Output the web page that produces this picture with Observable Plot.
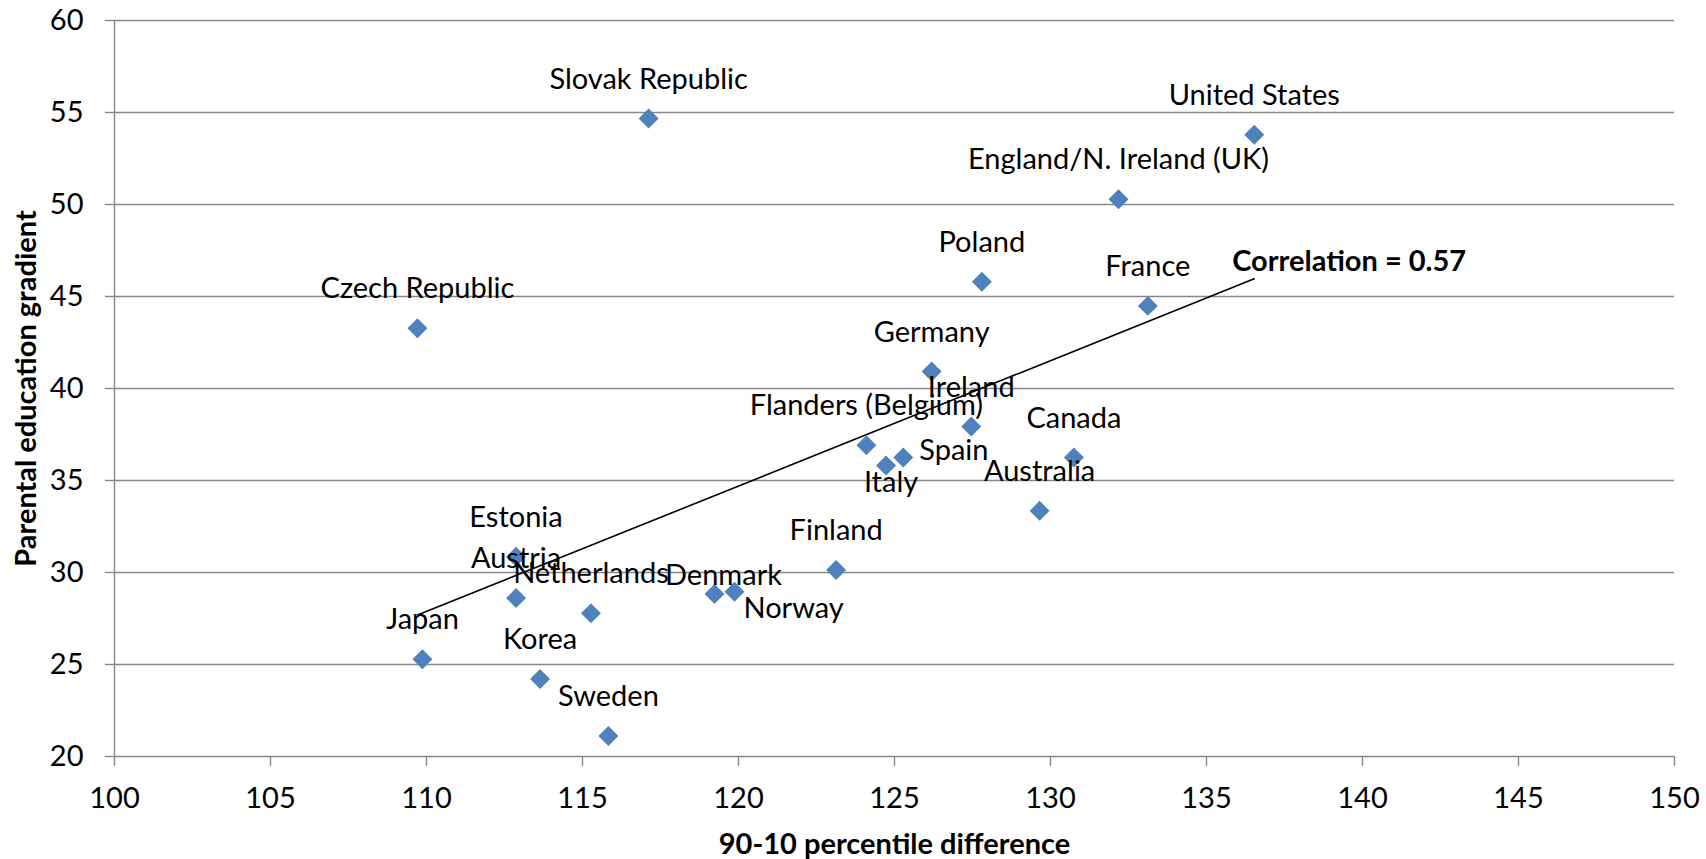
<!DOCTYPE html>
<html>
<head>
<meta charset="utf-8">
<script src="https://cdn.jsdelivr.net/npm/d3@7"></script>
<script src="https://cdn.jsdelivr.net/npm/@observablehq/plot@0.6"></script>
<style>
  html, body { margin: 0; padding: 0; background: #ffffff; }
  #chart { width: 1706px; height: 859px; }
  #chart svg { display: block; }
</style>
</head>
<body>
<div id="chart"></div>
<script>
// ---- Data ----
const countries = [
  "Slovak Republic", "United States", "England/N. Ireland (UK)", "Poland", "France",
  "Czech Republic", "Germany", "Ireland", "Flanders (Belgium)", "Spain", "Italy",
  "Canada", "Australia", "Finland", "Estonia", "Austria", "Netherlands", "Denmark",
  "Norway", "Japan", "Korea", "Sweden"
];
const percentileDifference = [
  117.12, 136.53, 132.18, 127.80, 133.12,
  109.71, 126.19, 127.46, 124.10, 125.28, 124.73,
  130.75, 129.65, 123.13, 112.87, 112.87, 115.27, 119.23,
  119.87, 109.87, 113.64, 115.83
];
const educationGradient = [
  54.67, 53.79, 50.29, 45.80, 44.49,
  43.28, 40.92, 37.93, 36.92, 36.25, 35.82,
  36.25, 33.35, 30.13, 30.85, 28.61, 27.79, 28.83,
  28.95, 25.29, 24.21, 21.12
];
const xTicks = [100, 105, 110, 115, 120, 125, 130, 135, 140, 145, 150];
const yTicks = [20, 25, 30, 35, 40, 45, 50, 55, 60];
const xTitle = "90-10 percentile difference";
const yTitle = "Parental education gradient";
const correlationLabel = "Correlation = 0.57";

// ---- Label placement (style only) ----
const defaultPlacement = {dx: 0, dy: -39, textAnchor: "middle"};
const specialPlacement = {
  "Spain":   {dx: 16, dy: -7,  textAnchor: "start"},
  "Italy":   {dx: 5,  dy: 17,  textAnchor: "middle"},
  "Denmark": {dx: 9,  dy: -18, textAnchor: "middle"},
  "Norway":  {dx: 9,  dy: 17,  textAnchor: "start"}
};

const data = countries.map((c, i) => ({country: c, x: percentileDifference[i], y: educationGradient[i]}));

// least-squares fit, used only to anchor the correlation annotation at the trend line end
const mx = d3.mean(data, d => d.x), my = d3.mean(data, d => d.y);
const slope = d3.sum(data, d => (d.x - mx) * (d.y - my)) / d3.sum(data, d => (d.x - mx) ** 2);
const xEnd = d3.max(data, d => d.x);
const trendEnd = [{x: xEnd, y: my + slope * (xEnd - mx), label: correlationLabel}];

const FONT = "Lato, 'Open Sans', sans-serif";
const FS = 29;
const GRID = "#888888";

const labelMarks = [];
const defaultData = data.filter(d => !specialPlacement[d.country]);
labelMarks.push(Plot.text(defaultData, {
  x: "x", y: "y", text: "country", dx: defaultPlacement.dx, dy: defaultPlacement.dy,
  textAnchor: defaultPlacement.textAnchor, fontSize: FS, fill: "#000"
}));
for (const [name, p] of Object.entries(specialPlacement)) {
  labelMarks.push(Plot.text(data.filter(d => d.country === name), {
    x: "x", y: "y", text: "country", dx: p.dx, dy: p.dy,
    textAnchor: p.textAnchor, fontSize: FS, fill: "#000"
  }));
}

const chart = Plot.plot({
  width: 1706,
  height: 859,
  marginLeft: 114,
  marginRight: 32,
  marginTop: 20,
  marginBottom: 103,
  style: {fontFamily: FONT, fontSize: FS + "px", color: "#000", background: "#fff", overflow: "visible"},
  x: {domain: [100, 150]},
  y: {domain: [20, 60]},
  marks: [
    Plot.ruleY(yTicks, {stroke: GRID, strokeWidth: 1.4}),
    Plot.ruleX([100], {stroke: GRID, strokeWidth: 1.4}),
    Plot.axisX({ticks: xTicks, tickSize: 10, tickPadding: 21, stroke: GRID, fill: "#000",
      strokeWidth: 1.4, fontSize: FS, label: null, tickFormat: d => String(d)}),
    Plot.axisY({ticks: yTicks, tickSize: 9, tickPadding: 22, stroke: GRID, fill: "#000",
      strokeWidth: 1.4, fontSize: FS, label: null, tickFormat: d => String(d)}),
    Plot.linearRegressionY(data, {x: "x", y: "y", ci: 0, stroke: "#000", strokeWidth: 1.6}),
    Plot.dot(data, {x: "x", y: "y", symbol: "diamond2", r: 9, fill: "#4F81BD", stroke: "none"}),
    ...labelMarks,
    Plot.text(trendEnd, {x: "x", y: "y", text: "label", dx: -22, dy: -17, textAnchor: "start",
      fontWeight: "bold", fontSize: FS, fill: "#000"}),
    Plot.text([xTitle], {frameAnchor: "bottom", dy: 97, fontWeight: "bold", fontSize: FS, fill: "#000"}),
    Plot.text([yTitle], {frameAnchor: "left", dx: -88, rotate: -90, textAnchor: "middle", lineAnchor: "middle",
      fontWeight: "bold", fontSize: FS, fill: "#000"})
  ]
});
document.getElementById("chart").appendChild(chart);
</script>
</body>
</html>
